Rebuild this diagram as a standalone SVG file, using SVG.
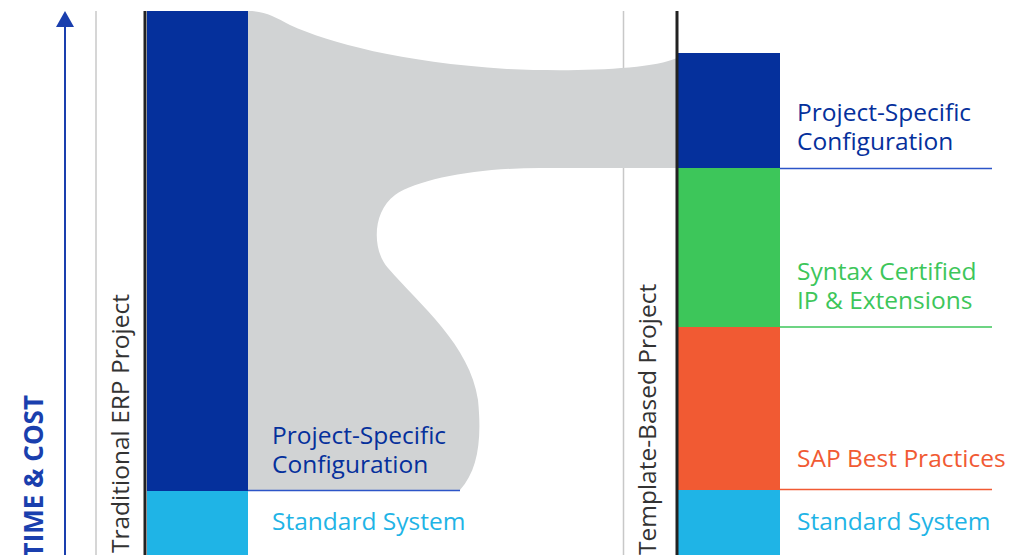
<svg xmlns="http://www.w3.org/2000/svg" width="1013" height="555" viewBox="0 0 1013 555">
<style>
.t{font-family:"Open Sans","Liberation Sans",sans-serif;font-size:24.5px}
.v{font-family:"Open Sans","Liberation Sans",sans-serif;font-size:24.5px;fill:#333}
.guide{stroke:#c8c8c8;stroke-width:1.5}
.frame{stroke:#222;stroke-width:3}
.dblue{fill:#05309c}.lblue{fill:#1fb4e6}.green{fill:#3dc65a}.orange{fill:#f15a33}
</style>
<rect width="1013" height="555" fill="#fff"/>
<g id="axis">
<line x1="65" y1="25" x2="65" y2="555" stroke="#1a3fae" stroke-width="2"/>
<polygon points="65,11 56,27 74,27" fill="#1a3fae"/>
<text transform="translate(43,395) rotate(-90)" text-anchor="end" font-family="'Open Sans','Liberation Sans',sans-serif" font-weight="700" font-size="26" fill="#1a3fae">TIME &amp; COST</text>
</g>
<g id="guides">
<line class="guide" x1="96" y1="11" x2="96" y2="555"/>
<line class="guide" x1="623.5" y1="11" x2="623.5" y2="555"/>
</g>
<g id="connectors">
<path d="M248,11 C265,11 275,17 290,25 C330,43 400,62 507,69 C570,72 650,70 677,58 L677,168 L540,168 C480,168 420,178 395,195 C372,212 372,250 388,268 C420,305 470,345 478,400 C482,440 478,470 460,490 L248,490 Z" fill="#d1d3d4"/>
<line x1="248" y1="490.5" x2="460" y2="490.5" stroke="#2c55c8" stroke-width="1.5"/>
<line x1="780" y1="168.5" x2="992" y2="168.5" stroke="#2c55c8" stroke-width="1.5"/>
<line x1="780" y1="327" x2="992" y2="327" stroke="#3dc65a" stroke-width="1.5"/>
<line x1="780" y1="489.5" x2="992" y2="489.5" stroke="#f15a33" stroke-width="1.5"/>
</g>
<g id="traditional">
<rect class="dblue" x="147" y="11" width="101" height="480"/>
<rect class="lblue" x="147" y="491" width="101" height="64"/>
<line class="frame" x1="145" y1="11" x2="145" y2="555"/>
<text class="v" transform="translate(129,553) rotate(-90)">Traditional ERP Project</text>
</g>
<g id="trad-config">
<text class="t" fill="#05309c"><tspan x="272" y="444">Project-Specific</tspan><tspan x="272" y="473">Configuration</tspan></text>
</g>
<g id="trad-standard">
<text class="t" x="272" y="530" fill="#1fb4e6">Standard System</text>
</g>
<g id="template">
<rect class="dblue" x="678" y="53" width="102" height="115"/>
<rect class="green" x="678" y="168" width="102" height="159"/>
<rect class="orange" x="678" y="327" width="102" height="163"/>
<rect class="lblue" x="678" y="490" width="102" height="65"/>
<line class="frame" x1="677" y1="11" x2="677" y2="555"/>
<text class="v" transform="translate(656,555) rotate(-90)">Template-Based Project</text>
</g>
<g id="tpl-config">
<text class="t" fill="#05309c"><tspan x="797" y="121">Project-Specific</tspan><tspan x="797" y="150">Configuration</tspan></text>
</g>
<g id="tpl-syntax">
<text class="t" fill="#3dc65a"><tspan x="797" y="280">Syntax Certified</tspan><tspan x="797" y="309">IP &amp; Extensions</tspan></text>
</g>
<g id="tpl-sap">
<text class="t" x="797" y="467" fill="#f15a33">SAP Best Practices</text>
</g>
<g id="tpl-standard">
<text class="t" x="797" y="530" fill="#1fb4e6">Standard System</text>
</g>
</svg>
